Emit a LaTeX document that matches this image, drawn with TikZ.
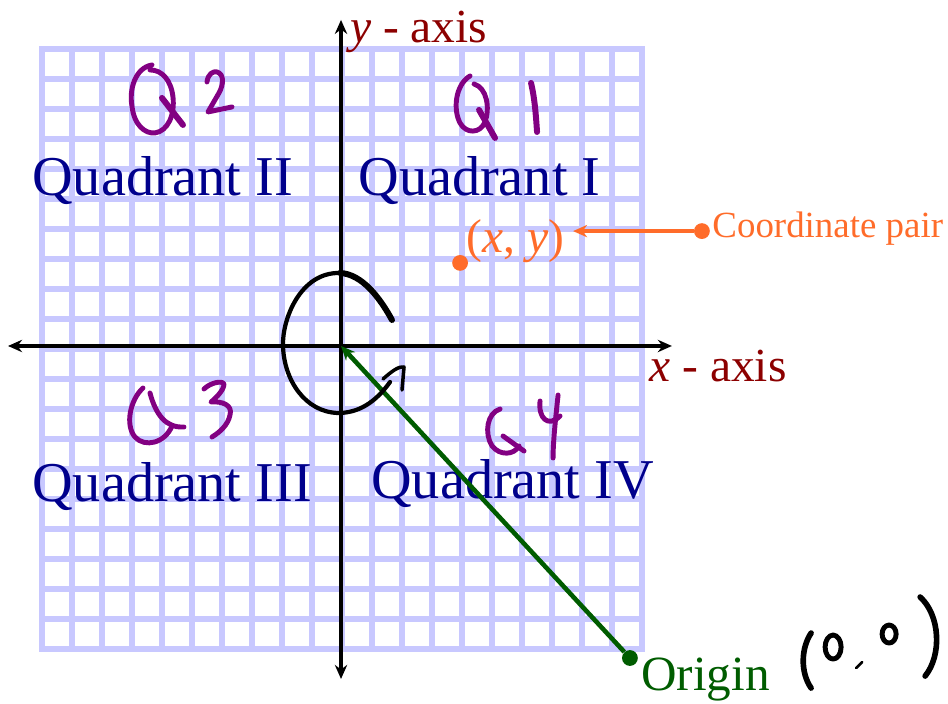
\documentclass[tikz,border=0pt]{standalone}
\usepackage{fontspec}
\setmainfont{Liberation Serif}
\usepackage{xcolor}
\usetikzlibrary{arrows.meta}

\definecolor{gridblue}{RGB}{200,200,255}
\definecolor{quadblue}{RGB}{0,0,140}
\definecolor{axisred}{RGB}{140,0,0}
\definecolor{pairorange}{RGB}{255,108,42}
\definecolor{origingreen}{RGB}{0,92,0}
\definecolor{inkpurple}{RGB}{130,0,130}

\tikzset{
  gridline/.style={draw=gridblue,line width=3pt,line cap=rect},
  axisline/.style={line width=2.2pt,{Stealth[length=8pt,width=7pt]}-{Stealth[length=8pt,width=7pt]}},
  quadtext/.style={text=quadblue,anchor=base west,inner sep=0pt,font=\fontsize{32}{36}\selectfont},
  axistext/.style={text=axisred,anchor=base west,inner sep=0pt,font=\fontsize{27}{30}\selectfont},
  bigdot/.style={circle,fill,inner sep=0pt,minimum size=9pt},
  ink/.style={line width=2.8pt,line cap=round,line join=round},
}

\begin{document}
\begin{tikzpicture}[x=0.6cm,y=0.6cm]
\useasboundingbox (-11.367,-11.933) rectangle (20.233,11.533);

% graph paper
\begin{scope}[shift={(0.03,-0.1)}]
\foreach \i in {-10,...,10} {
  \draw[gridline] (\i,-10) -- (\i,10);
  \draw[gridline] (-10,\i) -- (10,\i);
}
\end{scope}

% axes
\coordinate (O) at (0,0);
\coordinate (xleft) at (-11.1,0);
\coordinate (xright) at (11.03,0);
\coordinate (ydown) at (0,-11.1);
\coordinate (yup) at (0,10.87);
\draw[axisline] (xleft) -- (xright);
\draw[axisline] (ydown) -- (yup);
\node[axistext] (ylabel) at (0.3,10.1) {\textit{y} - axis};
\node[axistext] (xlabel) at (10.27,-1.17) {\textit{x} - axis};

% quadrant names
\node[quadtext] (quadII) at (-10.3,5.03) {Quadrant II};
\node[quadtext] (quadI) at (0.57,5.03) {Quadrant I};
\node[quadtext] (quadIII) at (-10.3,-5.2) {Quadrant III};
\node[quadtext] (quadIV) at (1.0,-5.07) {Quadrant IV};

% coordinate pair
\node[bigdot,pairorange] (pointdot) at (3.97,2.77) {};
\node[text=pairorange,anchor=base west,inner sep=0pt,font=\fontsize{27}{30}\selectfont] (xy) at (4.17,3.13) {(\textit{x}, \textit{y})};
\node[bigdot,pairorange] (pairdot) at (12.03,3.83) {};
\node[text=pairorange,anchor=base west,inner sep=0pt,font=\fontsize{21}{24}\selectfont] (pairtext) at (12.37,3.63) {Coordinate pair};
\draw[pairorange,line width=2.5pt,-{Stealth[length=8pt,width=7pt]},shorten >=5pt] (pairdot) -- (xy.east |- pairdot);

% origin
\node[bigdot,origingreen] (origindot) at (9.63,-10.4) {};
\node[text=origingreen,anchor=base west,inner sep=0pt,font=\fontsize{28}{32}\selectfont] (originlabel) at (10.0,-11.47) {Origin};
\draw[origingreen,line width=2.6pt,-{Stealth[length=8pt,width=7pt]}] (origindot) -- (O);

% handwriting, in pixels
\begin{scope}[x=0.02cm,y=-0.02cm,shift={(-341,-346)}]
% Q2
\draw[ink,inkpurple] (152,65) .. controls (135,68) and (129,90) .. (132,106) .. controls (134,125) and (145,134) .. (155,133) .. controls (168,131) and (175,115) .. (173,97) .. controls (171,80) and (162,70) .. (150,70);
\draw[ink,inkpurple,line width=3.4pt] (162,98) -- (183,125);
\draw[ink,inkpurple] (207,82) .. controls (208,74) and (213,71) .. (217,72) .. controls (224,74) and (224,84) .. (219,93) -- (208,112) -- (232,107);
% Q1
\draw[ink,inkpurple] (470,76) .. controls (455,85) and (453,110) .. (460,123) .. controls (466,134) and (480,134) .. (485,122) .. controls (490,108) and (487,88) .. (474,84);
\draw[ink,inkpurple,line width=3.4pt] (479,110) -- (495,138);
\draw[ink,inkpurple,line width=3.4pt] (531,83) .. controls (535,100) and (536,118) .. (537,132);
% Q3
\draw[ink,inkpurple] (143,388) .. controls (130,400) and (125,425) .. (135,437) .. controls (145,448) and (165,443) .. (172,426);
\draw[ink,inkpurple] (150,393) .. controls (156,415) and (166,428) .. (184,427);
\draw[ink,inkpurple] (204,389) .. controls (210,383) and (222,380) .. (224,384) .. controls (224,390) and (216,398) .. (211,402) .. controls (222,401) and (233,405) .. (230,415) .. controls (228,425) and (220,432) .. (212,437);
% Q4
\draw[ink,inkpurple] (500,409) .. controls (487,413) and (484,433) .. (492,446) .. controls (500,456) and (514,455) .. (519,446);
\draw[ink,inkpurple] (503,436) -- (524,451);
\draw[ink,inkpurple] (540,401) .. controls (538,418) and (548,428) .. (560,416);
\draw[ink,inkpurple] (558,395) .. controls (556,415) and (553,440) .. (553,458);
% turn around the origin
\draw[ink,line width=2.4pt] (340,273) .. controls (300,272) and (282,320) .. (283,346) .. controls (284,380) and (305,412) .. (338,413) .. controls (358,413) and (375,403) .. (390,382);
\draw[ink,line width=3.4pt] (392,320) .. controls (380,298) and (362,274) .. (340,273);
\draw[ink,line width=2pt] (383,379) .. controls (392,371) and (399,366) .. (404,367) -- (402,390);
% (0,0)
\draw[ink,line width=3.2pt] (811,633) .. controls (801,648) and (800,672) .. (811,688);
\draw[ink] (833,647) ellipse [x radius=8,y radius=12];
\draw[ink,line width=1.5pt] (862,662) -- (856,668);
\draw[ink] (889,634) ellipse [x radius=7,y radius=9];
\draw[ink,line width=3.2pt] (920,597) .. controls (940,615) and (942,655) .. (925,676);
\end{scope}
\end{tikzpicture}
\end{document}
